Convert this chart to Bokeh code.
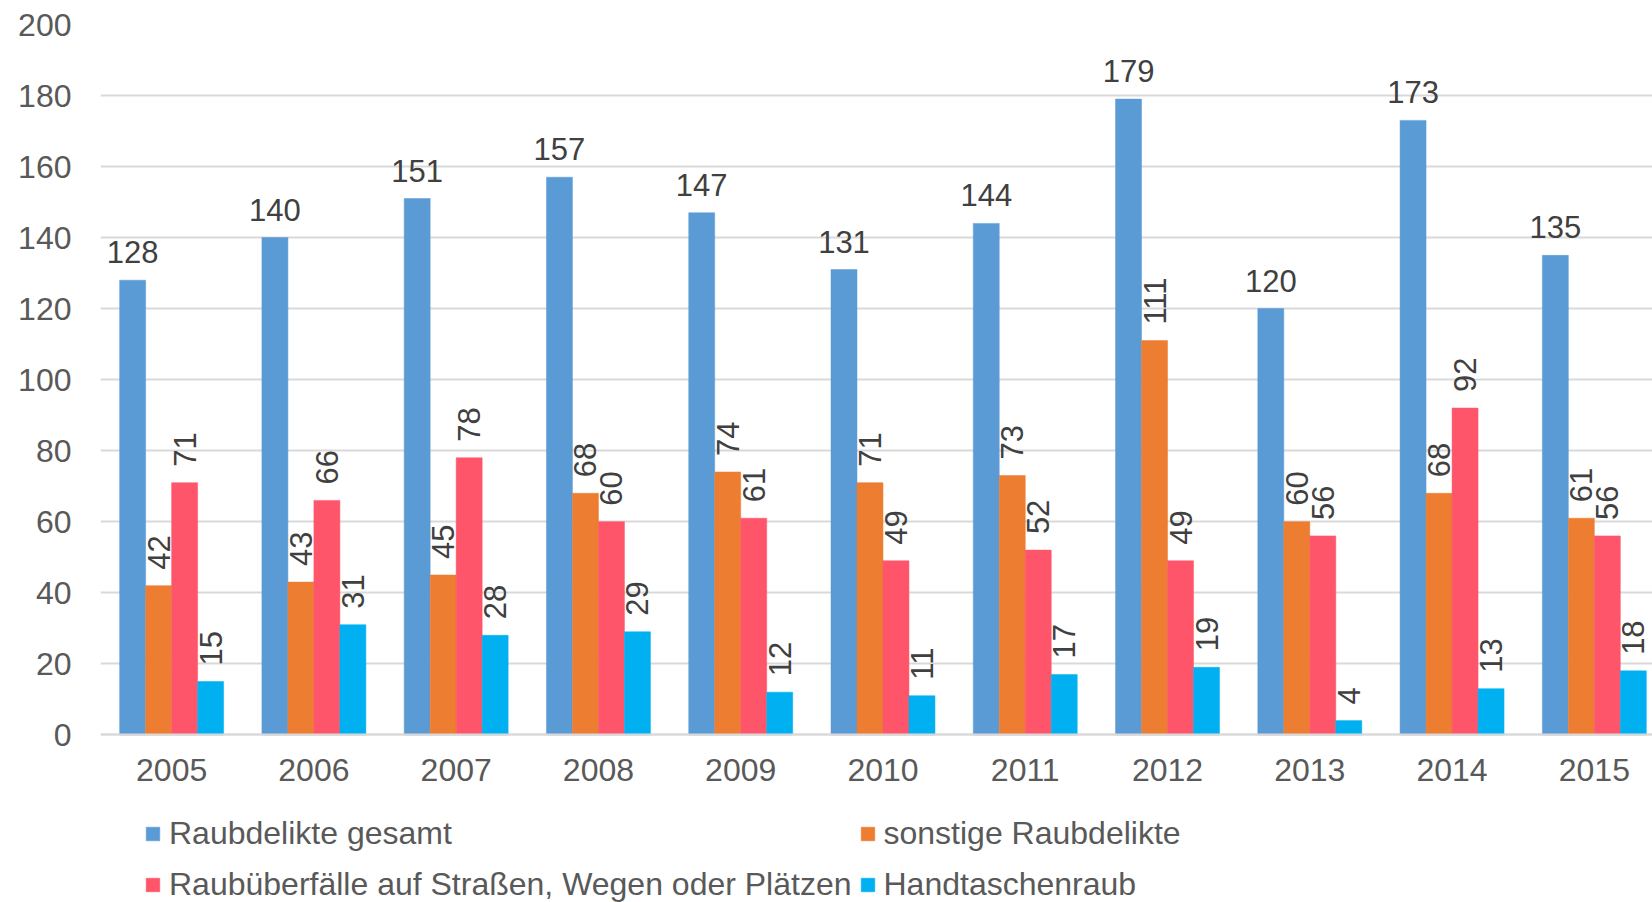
import math
from bokeh.plotting import figure
from bokeh.models import ColumnDataSource, Range1d, FixedTicker, Legend, LegendItem, LinearAxis
from bokeh.transform import dodge
from bokeh.core.properties import value
from bokeh.embed import file_html
from bokeh.resources import INLINE

# ---- data ----
years = [2005, 2006, 2007, 2008, 2009, 2010, 2011, 2012, 2013, 2014, 2015]
raub_gesamt = [128, 140, 151, 157, 147, 131, 144, 179, 120, 173, 135]
sonstige = [42, 43, 45, 68, 74, 71, 73, 111, 60, 68, 61]
strassen = [71, 66, 78, 60, 61, 49, 52, 49, 56, 92, 56]
handtaschen = [15, 31, 28, 29, 12, 11, 17, 19, 4, 13, 18]

series_names = [
    "Raubdelikte gesamt",
    "sonstige Raubdelikte",
    "Raubüberfälle auf Straßen, Wegen oder Plätzen",
    "Handtaschenraub",
]
series_keys = ["gesamt", "sonstige", "strassen", "handtaschen"]
colors = ["#5B9BD5", "#ED7D31", "#FF556A", "#00B0F0"]
y_ticks = [0, 20, 40, 60, 80, 100, 120, 140, 160, 180, 200]

src = ColumnDataSource(dict(
    year=years,
    gesamt=raub_gesamt,
    sonstige=sonstige,
    strassen=strassen,
    handtaschen=handtaschen,
    gesamt_t=[str(v) for v in raub_gesamt],
    sonstige_t=[str(v) for v in sonstige],
    strassen_t=[str(v) for v in strassen],
    handtaschen_t=[str(v) for v in handtaschen],
))

FONT = "Liberation Sans"
W, H = 1652, 902
LEFT, TOP = 100, 24
FW = W - LEFT
FH = H - TOP
PX_PER_UNIT = 710.3 / 200          # vertical scale of the value axis
Y_BOTTOM = -(FH - 710.3) / PX_PER_UNIT  # room under zero for year labels and legend

p = figure(width=W, height=H, output_backend="svg", toolbar_location=None,
           x_range=Range1d(years[0] - 0.5, years[0] - 0.5 + FW / 142.27),
           y_range=Range1d(Y_BOTTOM, 200),
           x_axis_location=None,
           min_border_left=LEFT, min_border_top=TOP, min_border_right=0,
           min_border_bottom=0)
p.outline_line_color = None
p.background_fill_color = "white"
p.border_fill_color = "white"

bw = 0.1827
offsets = [-1.5 * bw, -0.5 * bw, 0.5 * bw, 1.5 * bw]
renderers = []
for key, col, off in zip(series_keys, colors, offsets):
    r = p.vbar(x=dodge("year", off, range=p.x_range), top=key, width=bw, bottom=0,
               source=src, fill_color=col, line_color=col, line_width=0.5)
    renderers.append(r)

# data labels
p.text(x=dodge("year", offsets[0], range=p.x_range), y="gesamt", text="gesamt_t",
       source=src, text_font=value(FONT), text_font_size="31px", text_color="#404040",
       text_align="center", text_baseline="alphabetic", y_offset=-28)
for key, off in zip(series_keys[1:], offsets[1:]):
    p.text(x=dodge("year", off, range=p.x_range), y=key, text=key + "_t",
           source=src, text_font=value(FONT), text_font_size="31px", text_color="#404040",
           angle=math.pi / 2, text_align="left", text_baseline="middle", y_offset=-16)

# x axis sitting on the zero line
xax = LinearAxis(fixed_location=0, ticker=FixedTicker(ticks=years))
xax.major_tick_line_color = None
xax.major_tick_out = 0
xax.major_tick_in = 0
xax.minor_tick_line_color = None
xax.axis_line_color = "#D9D9D9"
xax.axis_line_width = 2
xax.major_label_text_font = FONT
xax.major_label_text_font_size = "32px"
xax.major_label_text_color = "#595959"
xax.major_label_standoff = 24
p.add_layout(xax, "below")

p.yaxis.ticker = FixedTicker(ticks=y_ticks)
p.yaxis.major_tick_line_color = None
p.yaxis.major_tick_out = 0
p.yaxis.major_tick_in = 0
p.yaxis.minor_tick_line_color = None
p.yaxis.axis_line_color = None
p.yaxis.major_label_text_font = FONT
p.yaxis.major_label_text_font_size = "32px"
p.yaxis.major_label_text_color = "#595959"
p.yaxis.major_label_standoff = 29

p.xgrid.grid_line_color = None
p.ygrid.grid_line_color = "#D9D9D9"
p.ygrid.grid_line_width = 2
p.ygrid.ticker = FixedTicker(ticks=y_ticks)

items = [LegendItem(label=n, renderers=[r]) for n, r in zip(series_names, renderers)]
legend = Legend(items=items, ncols=2, orientation="horizontal", location=(44, -4),
                label_text_font=FONT, label_text_font_size="32px",
                label_text_color="#595959", glyph_width=17, glyph_height=17,
                label_standoff=8, spacing=7, label_height=44, padding=0, margin=0,
                border_line_color=None, background_fill_alpha=0)
p.add_layout(legend, "center")

open("out.html", "w").write(file_html(p, INLINE))
